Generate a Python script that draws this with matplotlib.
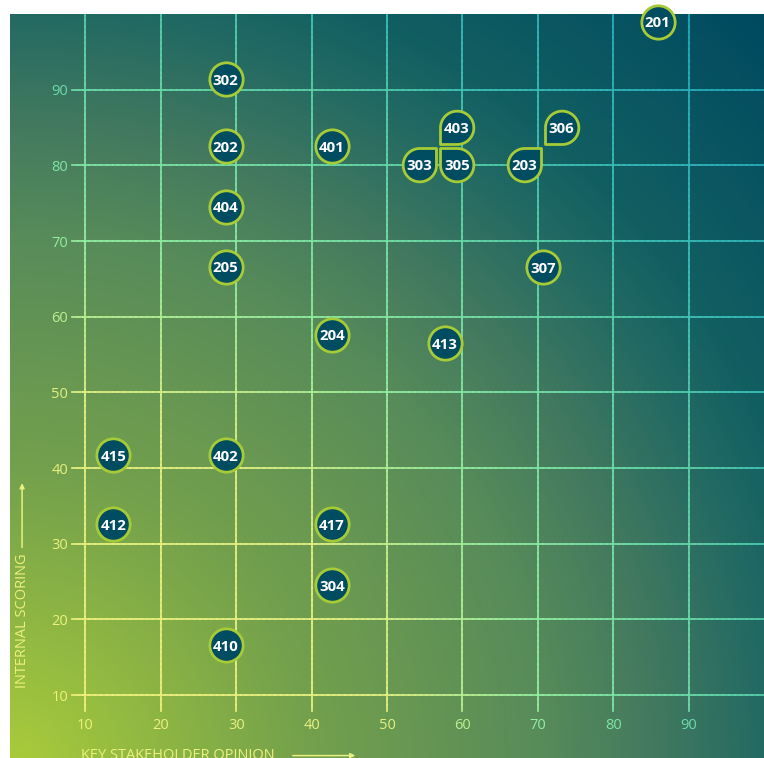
import numpy as np
import matplotlib
matplotlib.use('Agg')
import matplotlib.pyplot as plt
from matplotlib.colors import LinearSegmentedColormap
from matplotlib.collections import LineCollection
from matplotlib.path import Path
from matplotlib.markers import MarkerStyle

# ---------------- data ----------------
labels = ['201', '302', '202', '401', '404', '205', '204', '413', '307',
          '415', '402', '412', '417', '304', '410']
x_vals = [85.9, 28.6, 28.6, 42.7, 28.6, 28.6, 42.7, 57.7, 70.7,
          13.7, 28.6, 13.7, 42.7, 42.7, 28.6]
y_vals = [99.0, 91.4, 82.5, 82.5, 74.5, 66.6, 57.6, 56.5, 66.5,
          41.7, 41.7, 32.6, 32.6, 24.5, 16.6]

# overlapping points drawn as callout bubbles
cluster_labels = ['403', '303', '305', '203', '306']
cluster_x = [56.8, 56.8, 56.8, 70.7, 70.7]
cluster_y = [82.6, 82.6, 82.6, 82.6, 82.6]

x_ticks = [10, 20, 30, 40, 50, 60, 70, 80, 90]
y_ticks = [10, 20, 30, 40, 50, 60, 70, 80, 90]
x_title = 'KEY STAKEHOLDER OPINION'
y_title = 'INTERNAL SCORING'

# ---------------- style ----------------
bubble_dir = {'403': (1, 1), '303': (-1, -1), '305': (1, -1),
              '203': (-1, -1), '306': (1, 1)}
FILL = '#004c60'
EDGE = '#a6cb36'
R = 12.0          # bubble radius in points
GAP = 0.12        # gap of callout corner from the point, in radii
MEW = 2.0

bg_cmap = LinearSegmentedColormap.from_list('bg', [
    (0.0, '#aacc3a'), (0.39 / 1.4142, '#74a14c'), (0.71 / 1.4142, '#578b5a'),
    (0.86 / 1.4142, '#42795f'), (1.0 / 1.4142, '#236a63'),
    (1.1 / 1.4142, '#125f62'), (1.0, '#004a60')])
ln_cmap = LinearSegmentedColormap.from_list('ln', [
    (0.0, '#f4f07c'), (0.5 / 1.4142, '#e4f082'), (0.71 / 1.4142, '#92eea0'),
    (0.9 / 1.4142, '#6cdca8'), (1.0 / 1.4142, '#58d0a8'),
    (1.1 / 1.4142, '#3cc0b8'), (1.0, '#18a2ba')])


def dist(x, y):
    return np.clip(np.sqrt((np.asarray(x) / 100.0) ** 2 + (np.asarray(y) / 100.0) ** 2) / 1.4142, 0, 1)


fig = plt.figure(figsize=(7.64, 7.58), dpi=100)
ax = fig.add_axes([10 / 764, 0, 754 / 764, 744 / 758])
ax.set_xlim(0, 100)
ax.set_ylim(1.68, 100)
ax.axis('off')

# gradient background
gx, gy = np.meshgrid(np.linspace(0, 100, 400), np.linspace(0, 100, 400))
ax.imshow(bg_cmap(dist(gx, gy)), extent=(0, 100, 0, 100), origin='lower',
          aspect='auto', zorder=0, interpolation='bilinear')

# gradient grid lines
segs, cols = [], []
for xv in x_ticks:
    ys = np.linspace(7.9, 100, 120)
    for a, b in zip(ys[:-1], ys[1:]):
        segs.append([(xv, a), (xv, b)])
        cols.append(ln_cmap(dist(xv, (a + b) / 2)))
for yv in y_ticks:
    xs = np.linspace(8.2, 100, 120)
    for a, b in zip(xs[:-1], xs[1:]):
        segs.append([(a, yv), (b, yv)])
        cols.append(ln_cmap(dist((a + b) / 2, yv)))
ax.add_collection(LineCollection(segs, colors=cols, linewidths=1.25, zorder=1,
                                 capstyle='projecting'))

tick_font = dict(family=['Open Sans', 'DejaVu Sans'], fontsize=10.5, fontweight='normal')
for yv in y_ticks:
    ax.text(7.7, yv, str(yv), ha='right', va='center_baseline',
            color=ln_cmap(dist(5, yv)), **tick_font)
for xv in x_ticks:
    ax.text(xv, 6.3, str(xv), ha='center', va='center_baseline',
            color=ln_cmap(dist(xv, 6)), clip_on=False, **tick_font)

# axis titles with arrows
title_font = dict(family=['Open Sans', 'DejaVu Sans'], fontsize=10.5, fontweight='normal')
ax.text(1.6, 10.9, y_title, rotation=90, ha='center', va='bottom',
        color=ln_cmap(dist(2, 20)), **title_font)
ax.annotate('', xy=(1.6, 38.0), xytext=(1.6, 29.5),
            arrowprops=dict(arrowstyle='-|>', lw=1.1, color=ln_cmap(dist(2, 34)),
                            mutation_scale=7, shrinkA=0, shrinkB=0))
ax.text(9.4, 2.95, x_title, ha='left', va='top', clip_on=False,
        color=ln_cmap(dist(25, 2)), **title_font)
ax.annotate('', xy=(45.8, 2.0), xytext=(37.5, 2.0), annotation_clip=False,
            arrowprops=dict(arrowstyle='-|>', lw=1.1, color=ln_cmap(dist(41, 2)),
                            mutation_scale=7, shrinkA=0, shrinkB=0))

label_font = dict(family=['Open Sans', 'DejaVu Sans'], fontsize=10.8,
                  fontweight='bold', color='white')

# round bubbles
ax.plot(x_vals, y_vals, ls='none', marker='o', ms=2 * R, mfc=FILL, mec=EDGE,
        mew=MEW, zorder=4, clip_on=False)
for lab, xv, yv in zip(labels, x_vals, y_vals):
    ax.text(xv, yv, lab, ha='center', va='center_baseline', zorder=5,
            clip_on=False, **label_font)


def teardrop(sx, sy, g):
    c = np.array([sx * (1 + g), sy * (1 + g)])
    thf = np.arctan2(-sy, -sx)
    th = np.linspace(thf + np.pi / 4, thf + 7 * np.pi / 4, 80)
    arc = c + np.column_stack([np.cos(th), np.sin(th)])
    corner = c + np.array([-sx, -sy])
    verts = np.vstack([arc, corner, arc[0]])
    codes = [Path.MOVETO] + [Path.LINETO] * (len(verts) - 2) + [Path.CLOSEPOLY]
    return Path(verts, codes)


for lab, xv, yv in zip(cluster_labels, cluster_x, cluster_y):
    sx, sy = bubble_dir[lab]
    m = MarkerStyle(teardrop(sx, sy, GAP), joinstyle='miter')
    ax.plot([xv], [yv], ls='none', marker=m, ms=2 * R * (2 + GAP), mfc=FILL,
            mec=EDGE, mew=MEW, zorder=4, clip_on=False)
    ax.annotate(lab, (xv, yv), xytext=(sx * R * (1 + GAP), sy * R * (1 + GAP)),
                textcoords='offset points', ha='center', va='center_baseline',
                zorder=5, annotation_clip=False, **label_font)

fig.savefig('out.png', dpi=100, facecolor='white')
